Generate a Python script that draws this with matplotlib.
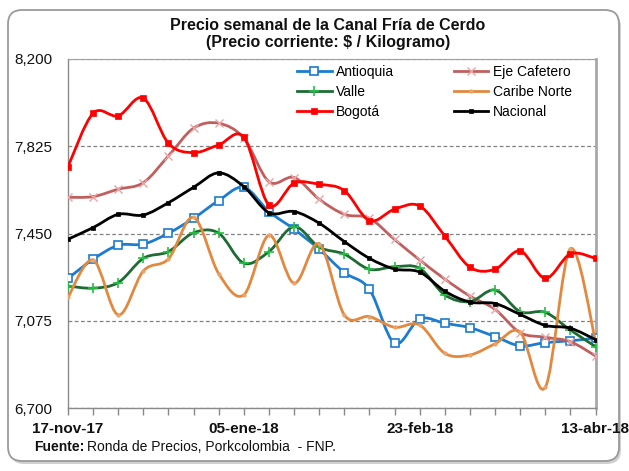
import matplotlib
matplotlib.use("Agg")
import matplotlib.pyplot as plt
from matplotlib.path import Path
from matplotlib.patches import PathPatch, FancyBboxPatch
from matplotlib.lines import Line2D
from matplotlib.transforms import IdentityTransform

plt.rcParams['font.family'] = ['Liberation Sans', 'DejaVu Sans']

# ---------------- data ----------------
semanas = ["17-nov-17", "24-nov-17", "01-dic-17", "08-dic-17", "15-dic-17", "22-dic-17",
           "29-dic-17", "05-ene-18", "12-ene-18", "19-ene-18", "26-ene-18", "02-feb-18",
           "09-feb-18", "16-feb-18", "23-feb-18", "02-mar-18", "09-mar-18", "16-mar-18",
           "23-mar-18", "30-mar-18", "06-abr-18", "13-abr-18"]
etiquetas_x = ["17-nov-17", "05-ene-18", "23-feb-18", "13-abr-18"]

antioquia = [7258, 7340, 7400, 7405, 7452, 7516, 7592, 7649, 7545, 7469, 7383,
             7283, 7211, 6979, 7084, 7065, 7046, 7008, 6968, 6982, 6990, 7001]
eje_cafetero = [7606, 7609, 7641, 7669, 7784, 7903, 7924, 7860, 7673, 7691, 7598,
                7533, 7516, 7425, 7337, 7255, 7182, 7125, 7025, 7005, 6986, 6925]
valle = [7225, 7216, 7240, 7344, 7373, 7454, 7452, 7323, 7373, 7480, 7392,
         7362, 7297, 7308, 7301, 7187, 7158, 7208, 7115, 7112, 7036, 6965]
caribe_norte = [7177, 7337, 7101, 7290, 7342, 7520, 7278, 7187, 7443, 7237, 7406,
                7101, 7094, 7048, 7058, 6936, 6929, 6977, 7027, 6790, 7385, 6990]
bogota = [7738, 7967, 7956, 8032, 7838, 7798, 7831, 7864, 7573, 7667, 7662,
          7635, 7506, 7555, 7569, 7440, 7306, 7297, 7376, 7258, 7363, 7344]
nacional = [7426, 7476, 7533, 7530, 7583, 7649, 7711, 7652, 7540, 7545, 7495,
            7416, 7344, 7298, 7285, 7203, 7156, 7150, 7103, 7056, 7044, 6995]

y_ticks = [6700, 7075, 7450, 7825, 8200]

# ---------------- figure ----------------
W, H = 629, 471
fig = plt.figure(figsize=(W / 100, H / 100), dpi=100)
fig.patch.set_facecolor('white')

# chart-area rounded border with shadow (pixel coords)
shadow = FancyBboxPatch((10, 7), 611, 451, boxstyle="round,pad=0,rounding_size=14",
                        transform=IdentityTransform(), facecolor='#D0D0D0',
                        edgecolor='none', zorder=-12)
border = FancyBboxPatch((8, 10), 611, 451, boxstyle="round,pad=0,rounding_size=14",
                        transform=IdentityTransform(), facecolor='white',
                        edgecolor='#9A9A9A', linewidth=1.3, zorder=-11)
fig.add_artist(shadow)
fig.add_artist(border)

ax = fig.add_axes([68 / W, 1 - 408.3 / H, (595.5 - 68) / W, (408.3 - 59) / H])
ax.set_facecolor('white')

x = list(range(len(semanas)))


def smooth_path(xs, ys):
    n = len(xs)
    pts = list(zip(xs, ys))
    verts = [pts[0]]
    codes = [Path.MOVETO]
    for i in range(n - 1):
        p0 = pts[i - 1] if i > 0 else pts[i]
        p1 = pts[i]
        p2 = pts[i + 1]
        p3 = pts[i + 2] if i + 2 < n else pts[i + 1]
        c1 = (p1[0] + (p2[0] - p0[0]) / 6, p1[1] + (p2[1] - p0[1]) / 6)
        c2 = (p2[0] - (p3[0] - p1[0]) / 6, p2[1] - (p3[1] - p1[1]) / 6)
        verts += [c1, c2, p2]
        codes += [Path.CURVE4] * 3
    return Path(verts, codes)


series = [
    ("Antioquia", antioquia, '#1C7CD0', dict(marker='s', ms=5.5, mfc='white', mec='#1C7CD0', mew=1.2)),
    ("Eje Cafetero", eje_cafetero, '#C0605E', dict(marker='x', ms=6, mfc='#E8A4A4', mec='#E8A4A4', mew=1.0)),
    ("Valle", valle, '#1E6B34', dict(marker='+', ms=7.5, mfc='#22C040', mec='#22C040', mew=1.2)),
    ("Caribe Norte", caribe_norte, '#E2893F', dict(marker='o', ms=2.5, mfc='#EBA36A', mec='#EBA36A', mew=0.5)),
    ("Bogotá", bogota, '#FF0000', dict(marker='s', ms=4, mfc='#FF0000', mec='#FF0000', mew=0.5)),
    ("Nacional", nacional, '#000000', dict(marker='s', ms=2.8, mfc='#000000', mec='#000000', mew=0.5)),
]

handles = {}
for k, (name, vals, col, mk) in enumerate(series):
    z = 3 + k
    patch = PathPatch(smooth_path(x, vals), facecolor='none', edgecolor=col,
                      linewidth=2.0, zorder=z, capstyle='round', joinstyle='round')
    ax.add_patch(patch)
    ax.plot(x, vals, linestyle='none', zorder=z + 0.5, **mk)
    handles[name] = Line2D([], [], color=col, linewidth=2.0, **mk)

ax.set_xlim(0, len(semanas) - 1)
ax.set_ylim(6700, 8200)
ax.set_yticks(y_ticks)
ax.set_yticklabels([f"{v:,}" for v in y_ticks], fontsize=11, color='#111111')
ax.tick_params(axis='y', length=0, pad=11.5)

ax.set_xticks(x)
ax.set_xticklabels([s if s in etiquetas_x else "" for s in semanas],
                   fontsize=11, fontweight='bold', color='#111111')
ax.tick_params(axis='x', direction='out', length=5, color='#888888', width=1, pad=5)

ax.yaxis.grid(True, linestyle=(0, (3, 2)), color='#808080', linewidth=0.9)
ax.set_axisbelow(True)

for side in ['left', 'bottom']:
    ax.spines[side].set_color('#8A8A8A')
    ax.spines[side].set_linewidth(1.0)
ax.spines['top'].set_color('#A0A0A0')
ax.spines['top'].set_linewidth(0.8)
ax.spines['right'].set_color('#A8A8A8')
ax.spines['right'].set_linewidth(2.0)

order = ["Antioquia", "Valle", "Bogotá", "Eje Cafetero", "Caribe Norte", "Nacional"]
leg = ax.legend([handles[n] for n in order], order, ncol=2,
                loc='upper left', bbox_to_anchor=(297 / W, 1 - 65 / H),
                bbox_transform=fig.transFigure, frameon=False, fontsize=10,
                handlelength=2.5, handletextpad=0.3, columnspacing=4.3,
                labelspacing=0.42, borderpad=0, borderaxespad=0, numpoints=1)
leg.set_zorder(20)

fig.text(328 / W, 1 - 25 / H, "Precio semanal de la Canal Fría de Cerdo",
         ha='center', va='center', fontsize=11.5, fontweight='bold', color='#111111')
fig.text(328 / W, 1 - 43 / H, "(Precio corriente: $ / Kilogramo)",
         ha='center', va='center', fontsize=11.5, fontweight='bold', color='#111111')

fig.text(34 / W, 1 - 447 / H, "Fuente:", ha='left', va='center',
         fontsize=10, fontweight='bold', color='#111111')
fig.text(87 / W, 1 - 447 / H, "Ronda de Precios, Porkcolombia  - FNP.",
         ha='left', va='center', fontsize=10, color='#111111')

fig.savefig("out.png", dpi=100, facecolor='white')
